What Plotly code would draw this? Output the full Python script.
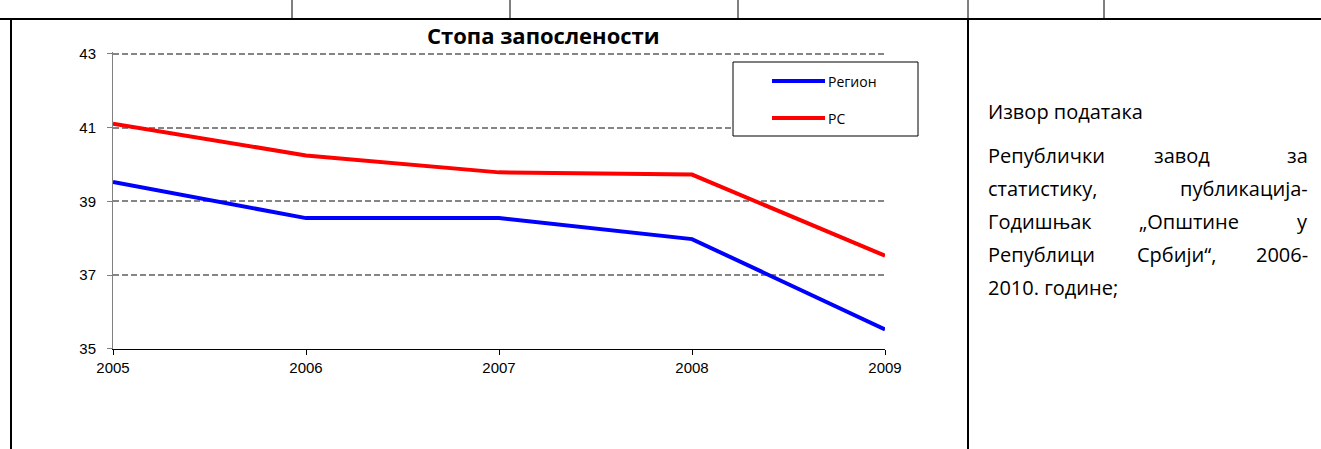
import plotly.graph_objects as go

W, H = 1321, 449

# ---- data ----
years = [2005, 2006, 2007, 2008, 2009]
region_values = [39.53, 38.55, 38.55, 37.98, 35.53]
rs_values = [41.11, 40.25, 39.79, 39.73, 37.53]
series_names = ["Регион", "РС"]
series_colors = ["#0000FF", "#FF0000"]
y_ticks = [35, 37, 39, 41, 43]
title_text = "Стопа запослености"
source_title = "Извор података"

def px(x):
    return x / W

def py(y):
    return 1 - y / H

fig = go.Figure()
for name, vals, col in zip(series_names, [region_values, rs_values], series_colors):
    fig.add_trace(go.Scatter(x=years, y=vals, mode="lines", name=name,
                             line=dict(color=col, width=4), showlegend=False))

unit = (349 - 54) / 8.0
ytop = 43.06
fig.update_layout(
    width=W, height=H,
    margin=dict(l=0, r=0, t=0, b=0, autoexpand=False),
    paper_bgcolor="white", plot_bgcolor="white",
    xaxis=dict(domain=[px(113), px(885)], range=[2005, 2009], tickvals=years,
               ticktext=[str(v) for v in years], showgrid=False, zeroline=False,
               showline=True, linecolor="#000000", linewidth=1,
               ticks="outside", ticklen=5, tickcolor="#000000",
               tickfont=dict(family="Liberation Sans", size=15, color="black")),
    yaxis=dict(domain=[py(349), py(54 - (ytop - 43) * unit)], range=[35, ytop], tickvals=y_ticks,
               showgrid=True, gridcolor="#858585", griddash="6px,3px", gridwidth=2,
               zeroline=False, showline=True, linecolor="#808080", linewidth=1,
               ticks="outside", ticklen=5, tickcolor="#808080", ticklabelstandoff=8,
               tickfont=dict(family="Liberation Sans", size=15, color="black")),
)

shapes = []
# table borders
shapes.append(dict(type="line", xref="paper", yref="paper", x0=0, x1=1, y0=py(19), y1=py(19),
                   line=dict(color="black", width=2)))
for xv in [292, 510, 738, 968, 1104]:
    shapes.append(dict(type="line", xref="paper", yref="paper", x0=px(xv), x1=px(xv), y0=py(0), y1=py(19),
                       line=dict(color="black", width=1)))
shapes.append(dict(type="line", xref="paper", yref="paper", x0=px(11), x1=px(11), y0=py(19), y1=0,
                   line=dict(color="black", width=2)))
shapes.append(dict(type="line", xref="paper", yref="paper", x0=px(968), x1=px(968), y0=py(19), y1=0,
                   line=dict(color="black", width=2)))
# legend box
shapes.append(dict(type="rect", xref="paper", yref="paper", x0=px(733), x1=px(918), y0=py(136), y1=py(62),
                   line=dict(color="black", width=1), fillcolor="white", layer="above"))
legend_y = [81, 118]
annotations = []
for name, col, ly in zip(series_names, series_colors, legend_y):
    shapes.append(dict(type="line", xref="paper", yref="paper", x0=px(772), x1=px(825), y0=py(ly), y1=py(ly),
                       line=dict(color=col, width=4), layer="above"))
    annotations.append(dict(text=name, x=px(826), y=py(ly + 1), xref="paper", yref="paper",
                            xanchor="left", yanchor="middle", showarrow=False,
                            font=dict(family="Open Sans", size=14, color="black")))

annotations.append(dict(text="<b>" + title_text + "</b>", x=px(543), y=py(35), xref="paper", yref="paper",
                        xanchor="center", yanchor="middle", showarrow=False,
                        font=dict(family="Open Sans", size=22, color="black")))

tf = dict(family="Open Sans", size=20, color="black")
annotations.append(dict(text=source_title, x=px(986), y=py(111), xref="paper", yref="paper",
                        xanchor="left", yanchor="middle", showarrow=False, font=tf))
# justified paragraph, word by word
para_lines = [
    [("Републички", 986, "left"), ("завод", 1182, "center"), ("за", 1310, "right")],
    [("статистику,", 986, "left"), ("публикација-", 1310, "right")],
    [("Годишњак", 986, "left"), ("„Општине", 1189, "center"), ("у", 1310, "right")],
    [("Републици", 986, "left"), ("Србији“,", 1176, "center"), ("2006-", 1310, "right")],
    [("2010. године;", 986, "left")],
]
for i, words in enumerate(para_lines):
    yy = 155 + 33 * i
    for w, xx, anc in words:
        annotations.append(dict(text=w, x=px(xx), y=py(yy), xref="paper", yref="paper",
                                xanchor=anc, yanchor="middle", showarrow=False, font=tf))

fig.update_layout(shapes=shapes, annotations=annotations)
fig.write_html("out.html", config={"displayModeBar": False, "responsive": False},
               post_script="document.body.style.margin='0';")
